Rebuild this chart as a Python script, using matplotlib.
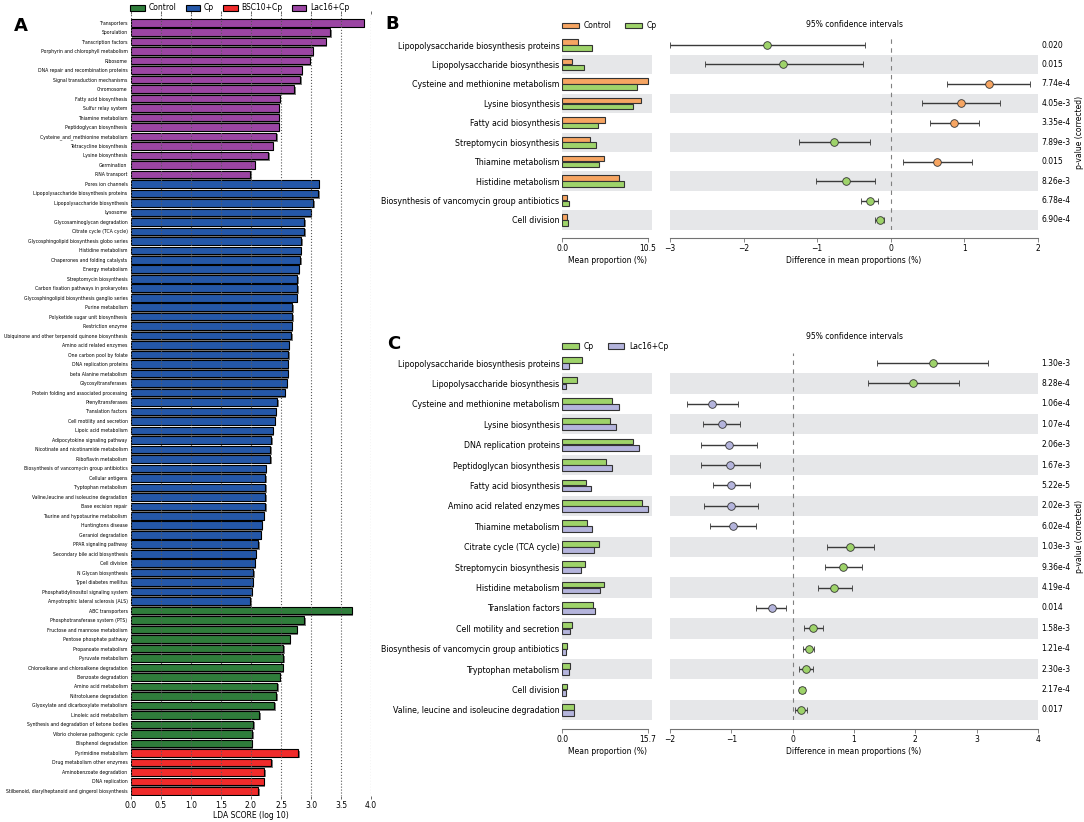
import numpy as np
import matplotlib.pyplot as plt
import matplotlib.patheffects as pe
import matplotlib.transforms as mtransforms
from matplotlib.patches import Patch

# ---------------- panel A : LEfSe LDA scores ----------------
lac_feats = ['Transporters', 'Sporulation', 'Transcription factors',
             'Porphyrin and chlorophyll metabolism', 'Ribosome',
             'DNA repair and recombination proteins', 'Signal transduction mechanisms',
             'Chromosome', 'Fatty acid biosynthesis', 'Sulfur relay system',
             'Thiamine metabolism', 'Peptidoglycan biosynthesis',
             'Cysteine_and_methionine metabolism', 'Tetracycline biosynthesis',
             'Lysine biosynthesis', 'Germination', 'RNA transport']
lac_lda = [3.88, 3.32, 3.25, 3.03, 2.98, 2.85, 2.82, 2.72, 2.48, 2.46, 2.46, 2.46,
           2.42, 2.36, 2.29, 2.06, 1.99]

cp_feats = ['Pores ion channels', 'Lipopolysaccharide biosynthesis proteins',
            'Lipopolysaccharide biosynthesis', 'Lysosome', 'Glycosaminoglycan degradation',
            'Citrate cycle (TCA cycle)', 'Glycosphingolipid biosynthesis globo series',
            'Histidine metabolism', 'Chaperones and folding catalysts', 'Energy metabolism',
            'Streptomycin biosynthesis', 'Carbon fixation pathways in prokaryotes',
            'Glycosphingolipid biosynthesis ganglio series', 'Purine metabolism',
            'Polyketide sugar unit biosynthesis', 'Restriction enzyme',
            'Ubiquinone and other terpenoid quinone biosynthesis', 'Amino acid related enzymes',
            'One carbon pool by folate', 'DNA replication proteins', 'beta Alanine metabolism',
            'Glycosyltransferases', 'Protein folding and associated processing',
            'Prenyltransferases', 'Translation factors', 'Cell motility and secretion',
            'Lipoic acid metabolism', 'Adipocytokine signaling pathway',
            'Nicotinate and nicotinamide metabolism', 'Riboflavin metabolism',
            'Biosynthesis of vancomycin group antibiotics', 'Cellular antigens',
            'Tryptophan metabolism', 'Valine,leucine and isoleucine degradation',
            'Base excision repair', 'Taurine and hypotaurine metabolism', 'Huntingtons disease',
            'Geraniol degradation', 'PPAR signaling pathway', 'Secondary bile acid biosynthesis',
            'Cell division', 'N Glycan biosynthesis', 'TypeI diabetes mellitus',
            'Phosphatidylinositol signaling system', 'Amyotrophic lateral sclerosis (ALS)']
cp_lda = [3.13, 3.12, 3.04, 3.00, 2.89, 2.89, 2.84, 2.83, 2.82, 2.80, 2.77, 2.77, 2.76,
          2.69, 2.69, 2.68, 2.67, 2.63, 2.62, 2.61, 2.61, 2.60, 2.56, 2.44, 2.41, 2.40,
          2.36, 2.34, 2.32, 2.32, 2.25, 2.24, 2.24, 2.24, 2.24, 2.21, 2.18, 2.16, 2.12,
          2.08, 2.06, 2.04, 2.03, 2.01, 1.99]

ctrl_feats = ['ABC transporters', 'Phosphotransferase system (PTS)',
              'Fructose and mannose metabolism', 'Pentose phosphate pathway',
              'Propanoate metabolism', 'Pyruvate metabolism',
              'Chloroalkane and chloroalkene degradation', 'Benzoate degradation',
              'Amino acid metabolism', 'Nitrotoluene degradation',
              'Glyoxylate and dicarboxylate metabolism', 'Linoleic acid metabolism',
              'Synthesis and degradation of ketone bodies', 'Vibrio cholerae pathogenic cycle',
              'Bisphenol degradation']
ctrl_lda = [3.68, 2.89, 2.76, 2.65, 2.54, 2.54, 2.53, 2.48, 2.44, 2.42, 2.39, 2.14,
            2.04, 2.02, 2.01]

bsc_feats = ['Pyrimidine metabolism', 'Drug metabolism other enzymes',
             'Aminobenzoate degradation', 'DNA replication',
             'Stilbenoid, diarylheptanoid and gingerol biosynthesis']
bsc_lda = [2.79, 2.34, 2.22, 2.21, 2.12]

groups_A = ['Control', 'Cp', 'BSC10+Cp', 'Lac16+Cp']
colors_A = {'Control': '#2f7d3b', 'Cp': '#2457a8', 'BSC10+Cp': '#f02b2b', 'Lac16+Cp': '#9b45a3'}

# ---------------- panel B : Control vs Cp ----------------
b_feats = ['Lipopolysaccharide biosynthesis proteins', 'Lipopolysaccharide biosynthesis',
           'Cysteine and methionine metabolism', 'Lysine biosynthesis',
           'Fatty acid biosynthesis', 'Streptomycin biosynthesis', 'Thiamine metabolism',
           'Histidine metabolism', 'Biosynthesis of vancomycin group antibiotics',
           'Cell division']
b_ctrl = [1.97, 1.15, 10.5, 9.63, 5.20, 3.44, 5.12, 7.00, 0.57, 0.57]
b_cp = [3.69, 2.62, 9.14, 8.73, 4.34, 4.18, 4.47, 7.58, 0.82, 0.74]
b_diff = [-1.68, -1.46, 1.33, 0.95, 0.86, -0.77, 0.63, -0.61, -0.28, -0.15]
b_lo = [-3.00, -2.53, 0.77, 0.42, 0.53, -1.25, 0.16, -1.01, -0.40, -0.21]
b_hi = [-0.35, -0.38, 1.89, 1.48, 1.20, -0.28, 1.10, -0.22, -0.17, -0.09]
b_p = ['0.020', '0.015', '7.74e-4', '4.05e-3', '3.35e-4', '7.89e-3', '0.015',
       '8.26e-3', '6.78e-4', '6.90e-4']

# ---------------- panel C : Cp vs Lac16+Cp ----------------
c_feats = ['Lipopolysaccharide biosynthesis proteins', 'Lipopolysaccharide biosynthesis',
           'Cysteine and methionine metabolism', 'Lysine biosynthesis',
           'DNA replication proteins', 'Peptidoglycan biosynthesis',
           'Fatty acid biosynthesis', 'Amino acid related enzymes', 'Thiamine metabolism',
           'Citrate cycle (TCA cycle)', 'Streptomycin biosynthesis', 'Histidine metabolism',
           'Translation factors', 'Cell motility and secretion',
           'Biosynthesis of vancomycin group antibiotics', 'Tryptophan metabolism',
           'Cell division', 'Valine, leucine and isoleucine degradation']
c_cp = [3.68, 2.64, 9.20, 8.77, 13.07, 8.10, 4.36, 14.66, 4.48, 6.69, 4.17, 7.60,
        5.58, 1.72, 0.86, 1.41, 0.80, 2.15]
c_lac = [1.29, 0.61, 10.49, 9.94, 14.11, 9.20, 5.28, 15.70, 5.46, 5.77, 3.37, 6.99,
         5.95, 1.35, 0.61, 1.29, 0.61, 2.09]
c_diff = [2.28, 1.97, -1.31, -1.16, -1.03, -1.02, -1.00, -1.00, -0.97, 0.94, 0.82, 0.68,
          -0.34, 0.33, 0.26, 0.21, 0.155, 0.14]
c_lo = [1.37, 1.23, -1.73, -1.47, -1.49, -1.49, -1.30, -1.44, -1.35, 0.56, 0.52, 0.41,
        -0.59, 0.19, 0.17, 0.10, 0.11, 0.04]
c_hi = [3.19, 2.71, -0.89, -0.86, -0.58, -0.54, -0.70, -0.56, -0.59, 1.32, 1.13, 0.96,
        -0.11, 0.49, 0.35, 0.33, 0.20, 0.24]
c_p = ['1.30e-3', '8.28e-4', '1.06e-4', '1.07e-4', '2.06e-3', '1.67e-3', '5.22e-5',
       '2.02e-3', '6.02e-4', '1.03e-3', '9.36e-4', '4.19e-4', '0.014', '1.58e-3',
       '1.21e-4', '2.30e-3', '2.17e-4', '0.017']

ORANGE = '#f6a562'
GREEN = '#9ed36a'
LAVENDER = '#b4b4dc'
BAND = '#e6e7e9'
EDGE = '#333333'

W, H = 1084, 822
fig = plt.figure(figsize=(W / 100, H / 100), dpi=100)
plt.rcParams['font.family'] = 'DejaVu Sans'


def box(l, t, r, b):
    # pixel box -> figure fraction
    return [l / W, 1 - b / H, (r - l) / W, (b - t) / H]


# ============================ A ============================
feats_A = lac_feats + cp_feats + ctrl_feats + bsc_feats
lda_A = lac_lda + cp_lda + ctrl_lda + bsc_lda
cols_A = ([colors_A['Lac16+Cp']] * len(lac_feats) + [colors_A['Cp']] * len(cp_feats) +
          [colors_A['Control']] * len(ctrl_feats) + [colors_A['BSC10+Cp']] * len(bsc_feats))
nA = len(feats_A)
yA = np.arange(nA)

axA = fig.add_axes(box(131, 14, 371, 796))
shadow = [pe.SimplePatchShadow(offset=(1.0, -1.2), shadow_rgbFace='0.5', alpha=1.0), pe.Normal()]
axA.barh(yA, lda_A, height=0.8, color=cols_A, edgecolor='black', linewidth=0.8,
         path_effects=shadow, zorder=2)
axA.set_axisbelow(False)  # dotted grid shows over the bars
axA.set_ylim(nA - 0.5 + 0.05, -0.92)
axA.set_xlim(0, 4.0)
axA.set_xticks(np.arange(0, 4.01, 0.5))
axA.set_xticklabels(['%.1f' % v for v in np.arange(0, 4.01, 0.5)], fontsize=5.5)
axA.xaxis.grid(True, linestyle=':', color='0.35', linewidth=0.8)
axA.tick_params(axis='x', top=True, length=2, width=0.6, pad=1.5, color='0.3')
axA.set_yticks(yA)
axA.set_yticklabels(feats_A, fontsize=3.3)
axA.tick_params(axis='y', length=0, pad=2.5)
for s in axA.spines.values():
    s.set_visible(False)
axA.set_xlabel('LDA SCORE (log 10)', fontsize=5.5, labelpad=1)
handles_A = [Patch(facecolor=colors_A[g], edgecolor='black', linewidth=0.8) for g in groups_A]
axA.legend(handles_A, groups_A, loc='lower left', bbox_to_anchor=(-0.01, 1.0), ncol=4,
           frameon=False, fontsize=5.5, handlelength=1.9, handleheight=0.9,
           columnspacing=1.2, handletextpad=0.5, borderaxespad=0.1, borderpad=0.1)
fig.text(14 / W, 1 - 26 / H, 'A', fontsize=13, fontweight='bold', va='center', ha='left')


# ============================ B / C helper ============================
def stamp(top, bottom, feats, g1, g2, diff, lo, hi, pvals, names, cols, pmax, xr, xt,
          title_pad, leg_y):
    n = len(feats)
    y = np.arange(n)
    axL = fig.add_axes(box(562.3, top, 651.7, bottom))
    axR = fig.add_axes(box(670, top, 1038, bottom))
    for ax in (axL, axR):
        for i in range(1, n, 2):
            ax.axhspan(i - 0.5, i + 0.5, color=BAND, lw=0, zorder=0)
        ax.set_ylim(n - 0.5, -0.5)
        for s in ('top', 'right', 'left'):
            ax.spines[s].set_visible(False)
        ax.spines['bottom'].set_position(('outward', 6))
        ax.spines['bottom'].set_color('0.45')
        ax.tick_params(axis='x', labelsize=5.5, length=3, width=0.6, color='0.45', pad=1.5)
        ax.tick_params(axis='y', length=0)

    # mean proportion bars
    axL.barh(y - 0.15, g1, height=0.28, color=cols[0], edgecolor=EDGE, linewidth=0.8, zorder=2)
    axL.barh(y + 0.15, g2, height=0.28, color=cols[1], edgecolor=EDGE, linewidth=0.8, zorder=2)
    axL.set_xlim(0, pmax * 89.4 / 85.4)
    axL.set_xticks([0, pmax])
    axL.set_xticklabels(['0.0', '%.1f' % pmax])
    axL.spines['bottom'].set_bounds(0, pmax)
    axL.set_yticks(y)
    axL.set_yticklabels(feats, fontsize=5.7)
    axL.tick_params(axis='y', pad=2)
    axL.set_xlabel('Mean proportion (%)', fontsize=5.5, labelpad=2)
    hl = [Patch(facecolor=c, edgecolor=EDGE, linewidth=0.8) for c in cols]
    axL.legend(hl, names, loc='center left', bbox_to_anchor=(0.0, leg_y), ncol=2,
               frameon=False, fontsize=5.5, handlelength=2.2, handleheight=0.8,
               columnspacing=1.8, handletextpad=0.6, borderaxespad=0, borderpad=0)

    # difference with 95% CI
    axR.axvline(0, color='0.5', linestyle=(0, (4, 4)), linewidth=0.8, zorder=1)
    for i in range(n):
        c = cols[0] if diff[i] > 0 else cols[1]
        axR.errorbar(diff[i], i, xerr=[[diff[i] - lo[i]], [hi[i] - diff[i]]], fmt='o',
                     color=EDGE, ecolor='#3a3a3a', elinewidth=1.0, capsize=2, capthick=0.8,
                     markersize=5.5, markerfacecolor=c, markeredgecolor=EDGE,
                     markeredgewidth=0.6, zorder=3)
    axR.set_xlim(*xr)
    axR.set_xticks(xt)
    axR.set_xticklabels(['\u2212%d' % -v if v < 0 else '%d' % v for v in xt])
    axR.set_yticks([])
    axR.set_xlabel('Difference in mean proportions (%)', fontsize=5.5, labelpad=2)
    axR.set_title('95% confidence intervals', fontsize=5.5, pad=title_pad)
    trans = mtransforms.blended_transform_factory(axR.transAxes, axR.transData)
    for i, p in enumerate(pvals):
        axR.text(1.01, i, p, transform=trans, fontsize=5.5, va='center', ha='left')
    fig.text(1080 / W, 1 - (top + bottom) / 2 / H, 'p-value (corrected)', rotation=90,
             fontsize=5.5, va='center', ha='center')
    return axL, axR


stamp(35.3, 229.7, b_feats, b_ctrl, b_cp, b_diff, b_lo, b_hi, b_p, ['Control', 'Cp'],
      [ORANGE, GREEN], 10.5, (-3, 2), [-3, -2, -1, 0, 1, 2], 6, 1.05)
fig.text(385 / W, 1 - 24 / H, 'B', fontsize=13, fontweight='bold', va='center', ha='left')

stamp(352.8, 720.2, c_feats, c_cp, c_lac, c_diff, c_lo, c_hi, c_p, ['Cp', 'Lac16+Cp'],
      [GREEN, LAVENDER], 15.7, (-2, 4), [-2, -1, 0, 1, 2, 3, 4], 10, 1.018)
fig.text(387 / W, 1 - 344 / H, 'C', fontsize=13, fontweight='bold', va='center', ha='left')

fig.savefig('out.png', dpi=100)
